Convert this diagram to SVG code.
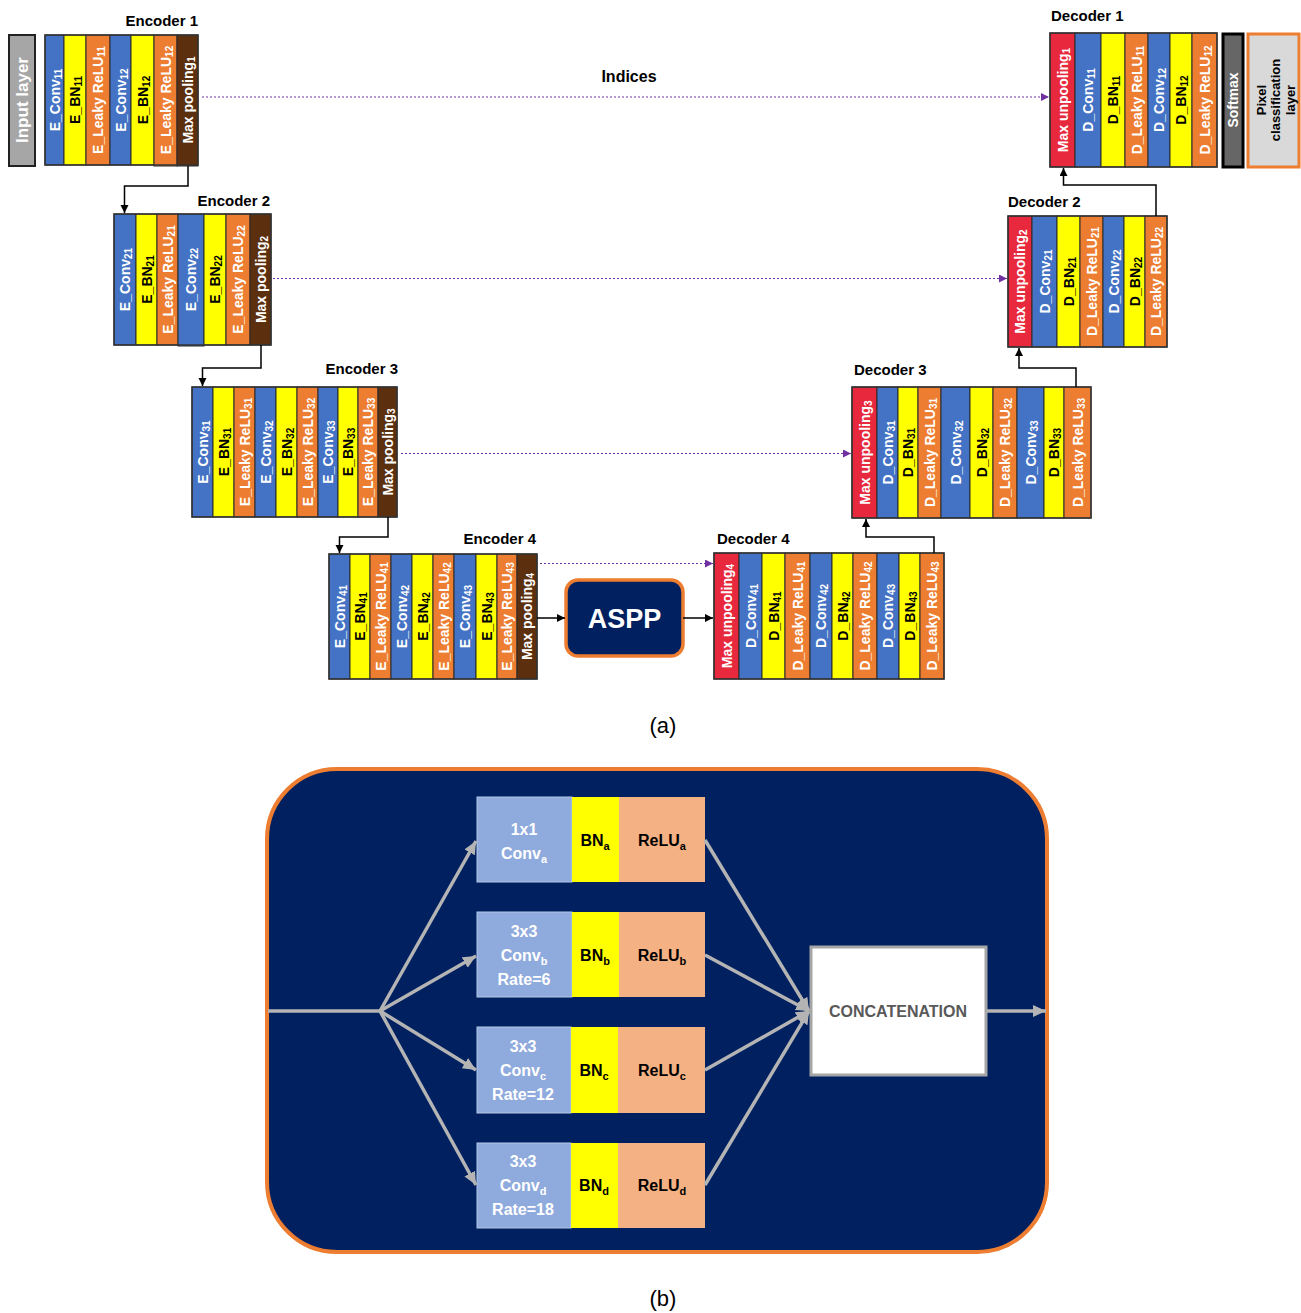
<svg xmlns="http://www.w3.org/2000/svg" width="1301" height="1313" viewBox="0 0 1301 1313">
<defs>
<style>
.c{stroke:#2b2b2b;stroke-width:1}
.b{fill:#4472c4}.y{fill:#ffff00}.o{fill:#ed7d31}.br{fill:#5c2f0e}.r{fill:#e8283c}
.box{fill:none;stroke:#333;stroke-width:1.5}
.vt{font-family:"Liberation Sans",Arial,sans-serif;font-weight:bold;font-size:14px;text-anchor:middle;dominant-baseline:central}
.w{fill:#fff}.k{fill:#000}
.s{font-size:10px}
.ttl{font-family:"Liberation Sans",Arial,sans-serif;font-weight:bold;font-size:15px;fill:#000}
.blk{fill:none;stroke:#000;stroke-width:1.5}
.dot{fill:none;stroke:#7030a0;stroke-width:1;stroke-dasharray:2 2}
.gl{fill:none;stroke:#b4b4b4;stroke-width:3.5}
.bt{font-family:"Liberation Sans",Arial,sans-serif;font-weight:bold;font-size:16px;text-anchor:middle}
.bs{font-size:11px}
.cap{font-family:"Liberation Sans",Arial,sans-serif;font-size:22px;text-anchor:middle;fill:#000}
</style>
<marker id="ak" markerUnits="userSpaceOnUse" markerWidth="9" markerHeight="9" refX="8" refY="4" orient="auto"><path d="M0,0L8,4L0,8z" fill="#000"/></marker>
<marker id="ap" markerUnits="userSpaceOnUse" markerWidth="9" markerHeight="9" refX="8" refY="4" orient="auto"><path d="M0,0L8,4L0,8z" fill="#7030a0"/></marker>
<marker id="ag" markerUnits="userSpaceOnUse" markerWidth="14" markerHeight="14" refX="13" refY="6" orient="auto"><path d="M0,0L13,6L0,12z" fill="#b4b4b4"/></marker>
</defs>
<rect width="1301" height="1313" fill="#fff"/>

<g id="input-layer">
<rect x="9" y="35" width="26" height="131" fill="#a6a6a6" stroke="#222" stroke-width="2"/>
<text class="vt w" style="font-size:17px" transform="translate(22,100) rotate(-90)">Input layer</text>
</g>

<g id="encoder1">
<text class="ttl" x="198" y="26" text-anchor="end">Encoder 1</text>
<rect class="c b" x="45" y="35" width="19" height="130"/>
<rect class="c y" x="64" y="35" width="22" height="130"/>
<rect class="c o" x="86" y="35" width="24" height="130"/>
<rect class="c b" x="110" y="35" width="21" height="130"/>
<rect class="c y" x="131" y="35" width="23" height="130"/>
<rect class="c o" x="154" y="35" width="23" height="131"/>
<rect class="c br" x="177" y="35" width="21" height="131"/>
<rect class="box" x="45" y="35" width="153" height="130"/>
<text class="vt w" transform="translate(54.5,100) rotate(-90)">E_Conv<tspan class="s" dy="3">11</tspan></text>
<text class="vt k" transform="translate(75,100) rotate(-90)">E_BN<tspan class="s" dy="3">11</tspan></text>
<text class="vt w" transform="translate(98,100) rotate(-90)">E_Leaky ReLU<tspan class="s" dy="3">11</tspan></text>
<text class="vt w" transform="translate(120.5,100) rotate(-90)">E_Conv<tspan class="s" dy="3">12</tspan></text>
<text class="vt k" transform="translate(142.5,100) rotate(-90)">E_BN<tspan class="s" dy="3">12</tspan></text>
<text class="vt w" transform="translate(165.5,100) rotate(-90)">E_Leaky ReLU<tspan class="s" dy="3">12</tspan></text>
<text class="vt w" transform="translate(187.5,100) rotate(-90)">Max pooling<tspan class="s" dy="3">1</tspan></text>
</g>

<g id="encoder2">
<text class="ttl" x="270" y="206" text-anchor="end">Encoder 2</text>
<rect class="c b" x="114" y="214" width="22" height="131"/>
<rect class="c y" x="136" y="214" width="21" height="131"/>
<rect class="c o" x="157" y="214" width="21" height="131"/>
<rect class="c b" x="178" y="214" width="26" height="132"/>
<rect class="c y" x="204" y="214" width="22" height="131"/>
<rect class="c o" x="226" y="214" width="24" height="131"/>
<rect class="c br" x="250" y="214" width="21" height="131"/>
<rect class="box" x="114" y="214" width="157" height="131"/>
<text class="vt w" transform="translate(125,279.5) rotate(-90)">E_Conv<tspan class="s" dy="3">21</tspan></text>
<text class="vt k" transform="translate(146.5,279.5) rotate(-90)">E_BN<tspan class="s" dy="3">21</tspan></text>
<text class="vt w" transform="translate(167.5,279.5) rotate(-90)">E_Leaky ReLU<tspan class="s" dy="3">21</tspan></text>
<text class="vt w" transform="translate(191,279.5) rotate(-90)">E_Conv<tspan class="s" dy="3">22</tspan></text>
<text class="vt k" transform="translate(215,279.5) rotate(-90)">E_BN<tspan class="s" dy="3">22</tspan></text>
<text class="vt w" transform="translate(238,279.5) rotate(-90)">E_Leaky ReLU<tspan class="s" dy="3">22</tspan></text>
<text class="vt w" transform="translate(260.5,279.5) rotate(-90)">Max pooling<tspan class="s" dy="3">2</tspan></text>
</g>

<g id="encoder3">
<text class="ttl" x="398" y="374" text-anchor="end">Encoder 3</text>
<rect class="c b" x="192" y="387" width="21" height="130"/>
<rect class="c y" x="213" y="387" width="21" height="130"/>
<rect class="c o" x="234" y="387" width="21" height="130"/>
<rect class="c b" x="255" y="387" width="21" height="130"/>
<rect class="c y" x="276" y="387" width="21" height="130"/>
<rect class="c o" x="297" y="387" width="21" height="130"/>
<rect class="c b" x="318" y="387" width="20" height="130"/>
<rect class="c y" x="338" y="387" width="20" height="130"/>
<rect class="c o" x="358" y="387" width="20" height="130"/>
<rect class="c br" x="378" y="387" width="19" height="130"/>
<rect class="box" x="192" y="387" width="205" height="130"/>
<text class="vt w" transform="translate(202.5,452) rotate(-90)">E_Conv<tspan class="s" dy="3">31</tspan></text>
<text class="vt k" transform="translate(223.5,452) rotate(-90)">E_BN<tspan class="s" dy="3">31</tspan></text>
<text class="vt w" transform="translate(244.5,452) rotate(-90)">E_Leaky ReLU<tspan class="s" dy="3">31</tspan></text>
<text class="vt w" transform="translate(265.5,452) rotate(-90)">E_Conv<tspan class="s" dy="3">32</tspan></text>
<text class="vt k" transform="translate(286.5,452) rotate(-90)">E_BN<tspan class="s" dy="3">32</tspan></text>
<text class="vt w" transform="translate(307.5,452) rotate(-90)">E_Leaky ReLU<tspan class="s" dy="3">32</tspan></text>
<text class="vt w" transform="translate(328,452) rotate(-90)">E_Conv<tspan class="s" dy="3">33</tspan></text>
<text class="vt k" transform="translate(348,452) rotate(-90)">E_BN<tspan class="s" dy="3">33</tspan></text>
<text class="vt w" transform="translate(368,452) rotate(-90)">E_Leaky ReLU<tspan class="s" dy="3">33</tspan></text>
<text class="vt w" transform="translate(387.5,452) rotate(-90)">Max pooling<tspan class="s" dy="3">3</tspan></text>
</g>

<g id="encoder4">
<text class="ttl" x="536" y="544" text-anchor="end">Encoder 4</text>
<rect class="c b" x="329" y="554" width="21" height="125"/>
<rect class="c y" x="350" y="554" width="20" height="125"/>
<rect class="c o" x="370" y="554" width="21" height="125"/>
<rect class="c b" x="391" y="554" width="21" height="125"/>
<rect class="c y" x="412" y="554" width="21" height="125"/>
<rect class="c o" x="433" y="554" width="21" height="125"/>
<rect class="c b" x="454" y="554" width="22" height="125"/>
<rect class="c y" x="476" y="554" width="21" height="125"/>
<rect class="c o" x="497" y="554" width="20" height="125"/>
<rect class="c br" x="517" y="554" width="20" height="125"/>
<rect class="box" x="329" y="554" width="208" height="125"/>
<text class="vt w" transform="translate(339.5,616.5) rotate(-90)">E_Conv<tspan class="s" dy="3">41</tspan></text>
<text class="vt k" transform="translate(360,616.5) rotate(-90)">E_BN<tspan class="s" dy="3">41</tspan></text>
<text class="vt w" transform="translate(380.5,616.5) rotate(-90)">E_Leaky ReLU<tspan class="s" dy="3">41</tspan></text>
<text class="vt w" transform="translate(401.5,616.5) rotate(-90)">E_Conv<tspan class="s" dy="3">42</tspan></text>
<text class="vt k" transform="translate(422.5,616.5) rotate(-90)">E_BN<tspan class="s" dy="3">42</tspan></text>
<text class="vt w" transform="translate(443.5,616.5) rotate(-90)">E_Leaky ReLU<tspan class="s" dy="3">42</tspan></text>
<text class="vt w" transform="translate(465,616.5) rotate(-90)">E_Conv<tspan class="s" dy="3">43</tspan></text>
<text class="vt k" transform="translate(486.5,616.5) rotate(-90)">E_BN<tspan class="s" dy="3">43</tspan></text>
<text class="vt w" transform="translate(507,616.5) rotate(-90)">E_Leaky ReLU<tspan class="s" dy="3">43</tspan></text>
<text class="vt w" transform="translate(527,616.5) rotate(-90)">Max pooling<tspan class="s" dy="3">4</tspan></text>
</g>

<g id="aspp">
<rect x="566" y="580" width="117" height="76" rx="12" fill="#002060" stroke="#ed7d31" stroke-width="3.5"/>
<text x="624.5" y="628" text-anchor="middle" style="font-family:'Liberation Sans',Arial,sans-serif;font-weight:bold;font-size:27px" fill="#fff">ASPP</text>
</g>

<g id="decoder1">
<text class="ttl" x="1051" y="21">Decoder 1</text>
<rect class="c r" x="1050" y="33" width="25" height="134"/>
<rect class="c b" x="1075" y="33" width="26" height="134"/>
<rect class="c y" x="1101" y="33" width="24" height="134"/>
<rect class="c o" x="1125" y="33" width="23" height="134"/>
<rect class="c b" x="1148" y="33" width="22" height="134"/>
<rect class="c y" x="1170" y="33" width="22" height="134"/>
<rect class="c o" x="1192" y="33" width="25" height="134"/>
<rect class="box" x="1050" y="33" width="167" height="134"/>
<text class="vt w" transform="translate(1062.5,100) rotate(-90)">Max unpooling<tspan class="s" dy="3">1</tspan></text>
<text class="vt w" transform="translate(1088,100) rotate(-90)">D_Conv<tspan class="s" dy="3">11</tspan></text>
<text class="vt k" transform="translate(1113,100) rotate(-90)">D_BN<tspan class="s" dy="3">11</tspan></text>
<text class="vt w" transform="translate(1136.5,100) rotate(-90)">D_Leaky ReLU<tspan class="s" dy="3">11</tspan></text>
<text class="vt w" transform="translate(1159,100) rotate(-90)">D_Conv<tspan class="s" dy="3">12</tspan></text>
<text class="vt k" transform="translate(1181,100) rotate(-90)">D_BN<tspan class="s" dy="3">12</tspan></text>
<text class="vt w" transform="translate(1204.5,100) rotate(-90)">D_Leaky ReLU<tspan class="s" dy="3">12</tspan></text>
</g>

<g id="softmax">
<rect x="1223" y="34" width="20" height="133" fill="#666" stroke="#000" stroke-width="3"/>
<text class="vt w" transform="translate(1233,100) rotate(-90)">Softmax</text>
</g>

<g id="pixel-classification">
<rect x="1248" y="34" width="51" height="133" fill="#d9d9d9" stroke="#ed7d31" stroke-width="3"/>
<text class="vt k" style="font-size:13px" transform="translate(1261,100) rotate(-90)">Pixel</text>
<text class="vt k" style="font-size:13px" transform="translate(1275.5,100) rotate(-90)">classification</text>
<text class="vt k" style="font-size:13px" transform="translate(1290,100) rotate(-90)">layer</text>
</g>

<g id="decoder2">
<text class="ttl" x="1008" y="207">Decoder 2</text>
<rect class="c r" x="1008" y="216" width="24" height="131"/>
<rect class="c b" x="1032" y="216" width="25" height="131"/>
<rect class="c y" x="1057" y="216" width="23" height="131"/>
<rect class="c o" x="1080" y="216" width="23" height="131"/>
<rect class="c b" x="1103" y="216" width="21" height="131"/>
<rect class="c y" x="1124" y="216" width="21" height="131"/>
<rect class="c o" x="1145" y="216" width="22" height="131"/>
<rect class="box" x="1008" y="216" width="159" height="131"/>
<text class="vt w" transform="translate(1020,281.5) rotate(-90)">Max unpooling<tspan class="s" dy="3">2</tspan></text>
<text class="vt w" transform="translate(1044.5,281.5) rotate(-90)">D_Conv<tspan class="s" dy="3">21</tspan></text>
<text class="vt k" transform="translate(1068.5,281.5) rotate(-90)">D_BN<tspan class="s" dy="3">21</tspan></text>
<text class="vt w" transform="translate(1091.5,281.5) rotate(-90)">D_Leaky ReLU<tspan class="s" dy="3">21</tspan></text>
<text class="vt w" transform="translate(1113.5,281.5) rotate(-90)">D_Conv<tspan class="s" dy="3">22</tspan></text>
<text class="vt k" transform="translate(1134.5,281.5) rotate(-90)">D_BN<tspan class="s" dy="3">22</tspan></text>
<text class="vt w" transform="translate(1156,281.5) rotate(-90)">D_Leaky ReLU<tspan class="s" dy="3">22</tspan></text>
</g>

<g id="decoder3">
<text class="ttl" x="854" y="375">Decoder 3</text>
<rect class="c r" x="852" y="387" width="25" height="131"/>
<rect class="c b" x="877" y="387" width="21" height="131"/>
<rect class="c y" x="898" y="387" width="20" height="131"/>
<rect class="c o" x="918" y="387" width="23" height="131"/>
<rect class="c b" x="941" y="387" width="29" height="131"/>
<rect class="c y" x="970" y="387" width="23" height="131"/>
<rect class="c o" x="993" y="387" width="24" height="131"/>
<rect class="c b" x="1017" y="387" width="27" height="131"/>
<rect class="c y" x="1044" y="387" width="20" height="131"/>
<rect class="c o" x="1064" y="387" width="27" height="131"/>
<rect class="box" x="852" y="387" width="239" height="131"/>
<text class="vt w" transform="translate(864.5,452.5) rotate(-90)">Max unpooling<tspan class="s" dy="3">3</tspan></text>
<text class="vt w" transform="translate(887.5,452.5) rotate(-90)">D_Conv<tspan class="s" dy="3">31</tspan></text>
<text class="vt k" transform="translate(908,452.5) rotate(-90)">D_BN<tspan class="s" dy="3">31</tspan></text>
<text class="vt w" transform="translate(929.5,452.5) rotate(-90)">D_Leaky ReLU<tspan class="s" dy="3">31</tspan></text>
<text class="vt w" transform="translate(955.5,452.5) rotate(-90)">D_Conv<tspan class="s" dy="3">32</tspan></text>
<text class="vt k" transform="translate(981.5,452.5) rotate(-90)">D_BN<tspan class="s" dy="3">32</tspan></text>
<text class="vt w" transform="translate(1005,452.5) rotate(-90)">D_Leaky ReLU<tspan class="s" dy="3">32</tspan></text>
<text class="vt w" transform="translate(1030.5,452.5) rotate(-90)">D_Conv<tspan class="s" dy="3">33</tspan></text>
<text class="vt k" transform="translate(1054,452.5) rotate(-90)">D_BN<tspan class="s" dy="3">33</tspan></text>
<text class="vt w" transform="translate(1077.5,452.5) rotate(-90)">D_Leaky ReLU<tspan class="s" dy="3">33</tspan></text>
</g>

<g id="decoder4">
<text class="ttl" x="717" y="544">Decoder 4</text>
<rect class="c r" x="714" y="553" width="25" height="126"/>
<rect class="c b" x="739" y="553" width="23" height="126"/>
<rect class="c y" x="762" y="553" width="23" height="126"/>
<rect class="c o" x="785" y="553" width="25" height="126"/>
<rect class="c b" x="810" y="553" width="22" height="126"/>
<rect class="c y" x="832" y="553" width="21" height="126"/>
<rect class="c o" x="853" y="553" width="24" height="126"/>
<rect class="c b" x="877" y="553" width="22" height="126"/>
<rect class="c y" x="899" y="553" width="21" height="126"/>
<rect class="c o" x="920" y="553" width="24" height="126"/>
<rect class="box" x="714" y="553" width="230" height="126"/>
<text class="vt w" transform="translate(726.5,616) rotate(-90)">Max unpooling<tspan class="s" dy="3">4</tspan></text>
<text class="vt w" transform="translate(750.5,616) rotate(-90)">D_Conv<tspan class="s" dy="3">41</tspan></text>
<text class="vt k" transform="translate(773.5,616) rotate(-90)">D_BN<tspan class="s" dy="3">41</tspan></text>
<text class="vt w" transform="translate(797.5,616) rotate(-90)">D_Leaky ReLU<tspan class="s" dy="3">41</tspan></text>
<text class="vt w" transform="translate(821,616) rotate(-90)">D_Conv<tspan class="s" dy="3">42</tspan></text>
<text class="vt k" transform="translate(842.5,616) rotate(-90)">D_BN<tspan class="s" dy="3">42</tspan></text>
<text class="vt w" transform="translate(865,616) rotate(-90)">D_Leaky ReLU<tspan class="s" dy="3">42</tspan></text>
<text class="vt w" transform="translate(888,616) rotate(-90)">D_Conv<tspan class="s" dy="3">43</tspan></text>
<text class="vt k" transform="translate(909.5,616) rotate(-90)">D_BN<tspan class="s" dy="3">43</tspan></text>
<text class="vt w" transform="translate(932,616) rotate(-90)">D_Leaky ReLU<tspan class="s" dy="3">43</tspan></text>
</g>

<g id="connectors">
<path class="blk" d="M188,166V186H124.5V213" marker-end="url(#ak)"/>
<path class="blk" d="M261,345V368H202.5V386" marker-end="url(#ak)"/>
<path class="blk" d="M388,517V537H339.5V553" marker-end="url(#ak)"/>
<path class="blk" d="M537,618H565" marker-end="url(#ak)"/>
<path class="blk" d="M683,618H713" marker-end="url(#ak)"/>
<path class="blk" d="M934,553V537H866V519" marker-end="url(#ak)"/>
<path class="blk" d="M1076,387V368H1019V348" marker-end="url(#ak)"/>
<path class="blk" d="M1156,216V185H1063.5V168" marker-end="url(#ak)"/>
<path class="dot" d="M202,97H1049" marker-end="url(#ap)"/>
<path class="dot" d="M273,278.5H1007" marker-end="url(#ap)"/>
<path class="dot" d="M401,453.5H851" marker-end="url(#ap)"/>
<path class="dot" d="M540,563.5H713" marker-end="url(#ap)"/>
<text x="629" y="82" text-anchor="middle" class="ttl" style="font-size:16px">Indices</text>
</g>

<text class="cap" x="663" y="733">(a)</text>

<g id="aspp-detail">
<rect x="267" y="769" width="780" height="483" rx="70" fill="#002060" stroke="#ed7d31" stroke-width="4"/>
</g>

<g id="branch-a">
<rect x="477" y="797" width="95" height="85" fill="#8faadc" stroke="#b4c7e7" stroke-width="1"/>
<rect x="572" y="797" width="47" height="85" fill="#ffff00"/>
<rect x="619" y="797" width="86" height="85" fill="#f4b183"/>
<text class="bt" fill="#fff" x="524" y="835">1x1</text>
<text class="bt" fill="#fff" x="524" y="859">Conv<tspan class="bs" dy="4">a</tspan></text>
<text class="bt" fill="#000" x="595" y="846">BN<tspan class="bs" dy="4">a</tspan></text>
<text class="bt" fill="#000" x="662" y="846">ReLU<tspan class="bs" dy="4">a</tspan></text>
</g>

<g id="branch-b">
<rect x="477" y="912" width="95" height="85" fill="#8faadc" stroke="#b4c7e7" stroke-width="1"/>
<rect x="572" y="912" width="47" height="85" fill="#ffff00"/>
<rect x="619" y="912" width="86" height="85" fill="#f4b183"/>
<text class="bt" fill="#fff" x="524" y="937">3x3</text>
<text class="bt" fill="#fff" x="524" y="961">Conv<tspan class="bs" dy="4">b</tspan></text>
<text class="bt" fill="#fff" x="524" y="985">Rate=6</text>
<text class="bt" fill="#000" x="595" y="961">BN<tspan class="bs" dy="4">b</tspan></text>
<text class="bt" fill="#000" x="662" y="961">ReLU<tspan class="bs" dy="4">b</tspan></text>
</g>

<g id="branch-c">
<rect x="477" y="1027" width="94" height="86" fill="#8faadc" stroke="#b4c7e7" stroke-width="1"/>
<rect x="571" y="1027" width="47" height="86" fill="#ffff00"/>
<rect x="618" y="1027" width="87" height="86" fill="#f4b183"/>
<text class="bt" fill="#fff" x="523" y="1052">3x3</text>
<text class="bt" fill="#fff" x="523" y="1076">Conv<tspan class="bs" dy="4">c</tspan></text>
<text class="bt" fill="#fff" x="523" y="1100">Rate=12</text>
<text class="bt" fill="#000" x="594" y="1076">BN<tspan class="bs" dy="4">c</tspan></text>
<text class="bt" fill="#000" x="662" y="1076">ReLU<tspan class="bs" dy="4">c</tspan></text>
</g>

<g id="branch-d">
<rect x="477" y="1143" width="94" height="85" fill="#8faadc" stroke="#b4c7e7" stroke-width="1"/>
<rect x="571" y="1143" width="47" height="85" fill="#ffff00"/>
<rect x="618" y="1143" width="87" height="85" fill="#f4b183"/>
<text class="bt" fill="#fff" x="523" y="1167">3x3</text>
<text class="bt" fill="#fff" x="523" y="1191">Conv<tspan class="bs" dy="4">d</tspan></text>
<text class="bt" fill="#fff" x="523" y="1215">Rate=18</text>
<text class="bt" fill="#000" x="594" y="1191">BN<tspan class="bs" dy="4">d</tspan></text>
<text class="bt" fill="#000" x="662" y="1191">ReLU<tspan class="bs" dy="4">d</tspan></text>
</g>

<g id="concatenation">
<rect x="811" y="947" width="175" height="128" fill="#fff" stroke="#a6a6a6" stroke-width="3"/>
<text class="bt" fill="#595959" x="898" y="1017">CONCATENATION</text>
</g>

<g id="aspp-connectors">
<path class="gl" d="M268,1011H380"/>
<path class="gl" d="M380,1011L476,841" marker-end="url(#ag)"/>
<path class="gl" d="M380,1011L476,956" marker-end="url(#ag)"/>
<path class="gl" d="M380,1011L476,1070" marker-end="url(#ag)"/>
<path class="gl" d="M380,1011L476,1185" marker-end="url(#ag)"/>
<path class="gl" d="M705,840L809,1011" marker-end="url(#ag)"/>
<path class="gl" d="M705,955L809,1011" marker-end="url(#ag)"/>
<path class="gl" d="M705,1070L809,1011" marker-end="url(#ag)"/>
<path class="gl" d="M705,1185L809,1011" marker-end="url(#ag)"/>
<path class="gl" d="M987,1011H1046" marker-end="url(#ag)"/>
</g>

<text class="cap" x="663" y="1306">(b)</text>
</svg>
